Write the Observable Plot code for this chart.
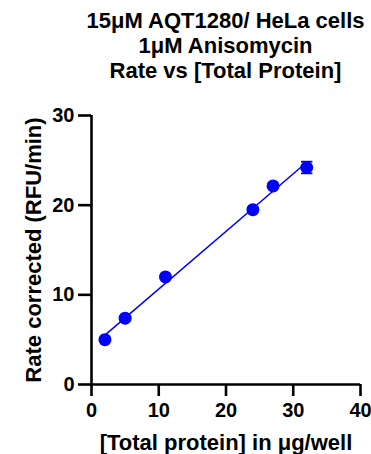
<!DOCTYPE html>
<html>
<head>
<meta charset="utf-8">
<script src="https://cdn.jsdelivr.net/npm/d3@7"></script>
<script src="https://cdn.jsdelivr.net/npm/@observablehq/plot@0.6"></script>
<style>
  html, body { margin: 0; padding: 0; background: #fff; }
  body { width: 371px; height: 454px; overflow: hidden; font-family: "Liberation Sans", Arial, sans-serif; }
  #title { padding: 8px 0 0 80px; width: 291px; text-align: center; font-weight: bold; font-size: 22px; line-height: 25px; color: #000; height: 76px; }
  #title div { white-space: nowrap; }
</style>
</head>
<body>
<div id="title">
  <div>15μM AQT1280/ HeLa cells</div>
  <div>1μM Anisomycin</div>
  <div>Rate vs [Total Protein]</div>
</div>
<div id="chart"></div>
<script>
const protein = [2, 5, 11, 24, 27, 32];
const rate = [5.0, 7.4, 12.0, 19.5, 22.15, 24.2];
const rateErr = [0.15, 0.15, 0.15, 0.2, 0.2, 0.65];
const xTicks = [0, 10, 20, 30, 40];
const yTicks = [0, 10, 20, 30];

const data = protein.map((x, i) => ({x, y: rate[i], e: rateErr[i]}));

const plot = Plot.plot({
  width: 371,
  height: 370,
  marginLeft: 91,
  marginRight: 11,
  marginTop: 31,
  marginBottom: 70,
  style: {fontFamily: "Liberation Sans, Arial, sans-serif", fontWeight: "bold", background: "#fff", color: "#000", overflow: "visible"},
  x: {domain: [0, 40]},
  y: {domain: [0, 30]},
  marks: [
    Plot.axisX({ticks: xTicks, tickSize: 12, tickPadding: 6, strokeWidth: 2.6, fontSize: 20, tickFormat: d => String(d),
      label: "[Total protein] in μg/well", labelAnchor: "center", labelArrow: "none", labelOffset: 65}),
    Plot.axisY({ticks: yTicks, tickSize: 13, tickPadding: 4, strokeWidth: 2.6, fontSize: 20, tickFormat: d => String(d),
      label: "Rate corrected (RFU/min)", labelAnchor: "center", labelArrow: "none", labelOffset: 66}),
    Plot.ruleY([0], {stroke: "#000", strokeWidth: 2.6}),
    Plot.ruleX([0], {stroke: "#000", strokeWidth: 2.6}),
    Plot.linearRegressionY(data, {x: "x", y: "y", stroke: "#0000ff", strokeWidth: 1.5, ci: 0}),
    Plot.ruleX(data, {x: "x", y1: d => d.y - d.e, y2: d => d.y + d.e, stroke: "#0000ff", strokeWidth: 1.8}),
    Plot.link(data, {x1: d => d.x - 0.85, x2: d => d.x + 0.85, y1: d => d.y + d.e, y2: d => d.y + d.e, stroke: "#0000ff", strokeWidth: 1.8}),
    Plot.link(data, {x1: d => d.x - 0.85, x2: d => d.x + 0.85, y1: d => d.y - d.e, y2: d => d.y - d.e, stroke: "#0000ff", strokeWidth: 1.8}),
    Plot.dot(data, {x: "x", y: "y", r: 6.5, fill: "#0000ff", stroke: "none"})
  ]
});
plot.querySelectorAll('g[aria-label="x-axis label"] text, g[aria-label="y-axis label"] text').forEach(t => t.setAttribute("font-size", "22"));
document.getElementById("chart").appendChild(plot);
</script>
</body>
</html>
